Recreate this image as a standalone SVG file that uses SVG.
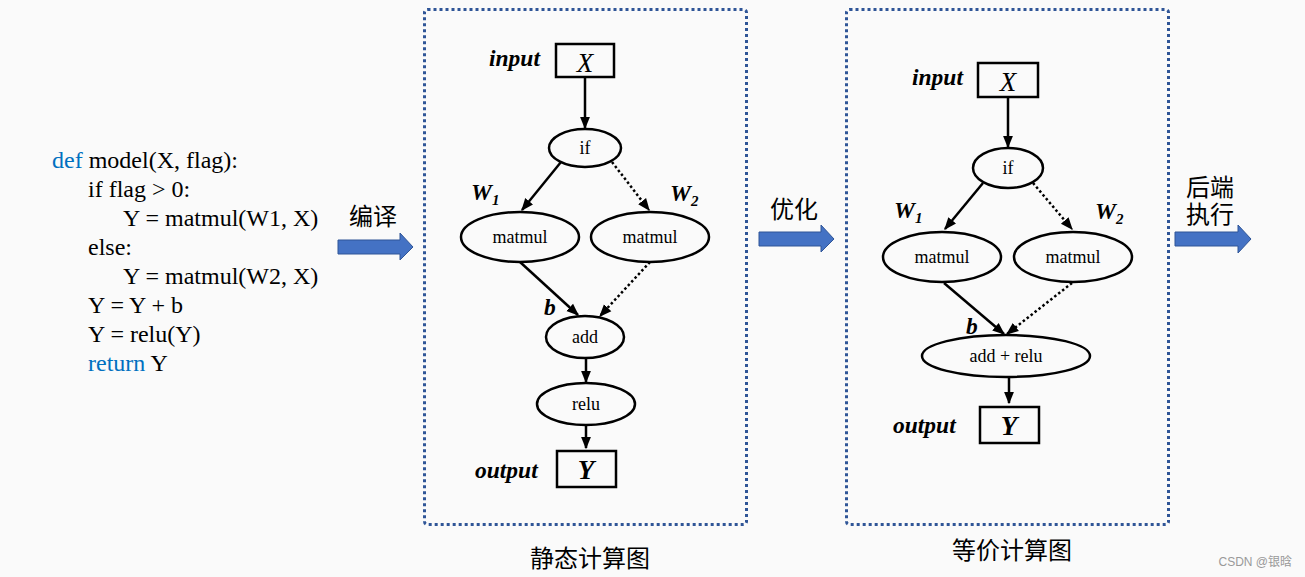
<svg xmlns="http://www.w3.org/2000/svg" width="1305" height="577" viewBox="0 0 1305 577">
<defs>
<marker id="ah" viewBox="0 0 10 10" refX="9" refY="5" markerWidth="5" markerHeight="5" orient="auto" markerUnits="strokeWidth"><path d="M0,1 L10,5 L0,9 Z" fill="#000"/></marker>
<style>
.code{font-family:"Liberation Serif",serif;font-size:24px;fill:#000}
.kw{fill:#0070c0}
.frame{fill:none;stroke:#2f5597;stroke-width:3;stroke-dasharray:3 3}
.node{fill:none;stroke:#000;stroke-width:2.5}
.lbl{font-family:"Liberation Serif",serif;font-size:18px;fill:#000;text-anchor:middle}
.ital{font-family:"Liberation Serif",serif;font-size:23.5px;font-style:italic;font-weight:bold;fill:#000}
.bigx{font-family:"Liberation Serif",serif;font-size:27px;font-style:italic;fill:#000;text-anchor:middle}
.big{font-family:"Liberation Serif",serif;font-size:27px;font-style:italic;font-weight:bold;fill:#000;text-anchor:middle}
.edge{stroke:#000;stroke-width:2.5;fill:none;marker-end:url(#ah)}
.dot{stroke:#000;stroke-width:2.5;fill:none;stroke-dasharray:2.5 2.5;marker-end:url(#ah)}
.cjk{font-family:"Liberation Sans","Noto Sans CJK SC",sans-serif;font-size:24px;fill:#000}
.barrow{fill:#4472c4;stroke:#2f5597;stroke-width:1}
</style>
</defs>
<rect width="1305" height="577" fill="#fafafa"/>

<g id="code">
<text class="code" x="52" y="168"><tspan class="kw">def</tspan> model(X, flag):</text>
<text class="code" x="88" y="197">if flag &gt; 0:</text>
<text class="code" x="123" y="226">Y = matmul(W1, X)</text>
<text class="code" x="88" y="255">else:</text>
<text class="code" x="123" y="284">Y = matmul(W2, X)</text>
<text class="code" x="88" y="313">Y = Y + b</text>
<text class="code" x="88" y="342">Y = relu(Y)</text>
<text class="code" x="88" y="371"><tspan class="kw">return</tspan> Y</text>
</g>

<g id="arrow-compile">
<path class="barrow" d="M338,240 H400 V233 L413,247 L400,260 V254 H338 Z"/>
<text class="cjk" x="373" y="225" text-anchor="middle">编译</text>
</g>
<g id="arrow-optimize">
<path class="barrow" d="M759,232 H821 V225 L834,239 L821,252 V246 H759 Z"/>
<text class="cjk" x="794" y="218" text-anchor="middle">优化</text>
</g>
<g id="arrow-backend">
<path class="barrow" d="M1175,232 H1238 V225 L1251,239 L1238,253 V246 H1175 Z"/>
<text class="cjk" x="1210" y="196" text-anchor="middle">后端</text>
<text class="cjk" x="1210" y="223" text-anchor="middle">执行</text>
</g>

<g id="frame-static">
<rect class="frame" x="424.5" y="9.5" width="322" height="515" rx="3"/>
<text class="cjk" x="590" y="567" text-anchor="middle">静态计算图</text>
</g>
<g id="frame-equiv">
<rect class="frame" x="846.5" y="9.5" width="322" height="515" rx="3"/>
<text class="cjk" x="1012" y="559" text-anchor="middle">等价计算图</text>
</g>

<g id="connectors">
<line class="edge" x1="585" y1="78" x2="585" y2="128"/>
<line class="edge" x1="561" y1="162" x2="522" y2="210"/>
<line class="dot" x1="612" y1="162" x2="649" y2="210"/>
<line class="edge" x1="520" y1="262" x2="578" y2="315"/>
<line class="dot" x1="650" y1="262" x2="600" y2="316"/>
<line class="edge" x1="586" y1="358" x2="586" y2="382"/>
<line class="edge" x1="586" y1="425" x2="586" y2="448"/>

<line class="edge" x1="1008" y1="98" x2="1008" y2="147"/>
<line class="edge" x1="983" y1="183" x2="945" y2="229"/>
<line class="dot" x1="1033" y1="183" x2="1072" y2="229"/>
<line class="edge" x1="944" y1="283" x2="1004" y2="334"/>
<line class="dot" x1="1072" y1="283" x2="1007" y2="334"/>
<line class="edge" x1="1009" y1="377" x2="1009" y2="403"/>
</g>

<g id="s-input">
<text class="ital" x="489" y="66">input</text>
<rect class="node" x="556" y="44" width="58" height="33" fill="none"/>
<text class="bigx" x="585" y="72">X</text>
</g>
<g id="s-if">
<ellipse class="node" cx="585" cy="148" rx="36" ry="19"/>
<text class="lbl" x="585" y="154">if</text>
</g>
<g id="s-matmul1">
<text class="ital" x="471" y="200">W<tspan font-size="15" dy="5">1</tspan></text>
<ellipse class="node" cx="520" cy="237" rx="59" ry="25"/>
<text class="lbl" x="520" y="243">matmul</text>
</g>
<g id="s-matmul2">
<text class="ital" x="670" y="201">W<tspan font-size="15" dy="5">2</tspan></text>
<ellipse class="node" cx="650" cy="237" rx="59" ry="25"/>
<text class="lbl" x="650" y="243">matmul</text>
</g>
<g id="s-add">
<text class="ital" x="544" y="315">b</text>
<ellipse class="node" cx="585" cy="337" rx="39" ry="21"/>
<text class="lbl" x="585" y="343">add</text>
</g>
<g id="s-relu">
<ellipse class="node" cx="586" cy="404" rx="49" ry="21"/>
<text class="lbl" x="586" y="410">relu</text>
</g>
<g id="s-output">
<text class="ital" x="475" y="478">output</text>
<rect class="node" x="557" y="451" width="59" height="36"/>
<text class="big" x="586" y="479">Y</text>
</g>

<g id="e-input">
<text class="ital" x="912" y="85">input</text>
<rect class="node" x="978" y="63" width="60" height="34"/>
<text class="bigx" x="1008" y="91">X</text>
</g>
<g id="e-if">
<ellipse class="node" cx="1008" cy="168" rx="35" ry="20"/>
<text class="lbl" x="1008" y="174">if</text>
</g>
<g id="e-matmul1">
<text class="ital" x="894" y="218">W<tspan font-size="15" dy="5">1</tspan></text>
<ellipse class="node" cx="942" cy="257" rx="59" ry="25"/>
<text class="lbl" x="942" y="263">matmul</text>
</g>
<g id="e-matmul2">
<text class="ital" x="1095" y="219">W<tspan font-size="15" dy="5">2</tspan></text>
<ellipse class="node" cx="1073" cy="257" rx="59" ry="25"/>
<text class="lbl" x="1073" y="263">matmul</text>
</g>
<g id="e-addrelu">
<text class="ital" x="966" y="334">b</text>
<ellipse class="node" cx="1006" cy="356" rx="84" ry="21"/>
<text class="lbl" x="1006" y="362">add + relu</text>
</g>
<g id="e-output">
<text class="ital" x="893" y="433">output</text>
<rect class="node" x="980" y="407" width="59" height="36"/>
<text class="big" x="1009" y="435">Y</text>
</g>

<text x="1292" y="566" text-anchor="end" font-family="Liberation Sans,'Noto Sans CJK SC',sans-serif" font-size="12" fill="#999">CSDN @银晗</text>
</svg>
